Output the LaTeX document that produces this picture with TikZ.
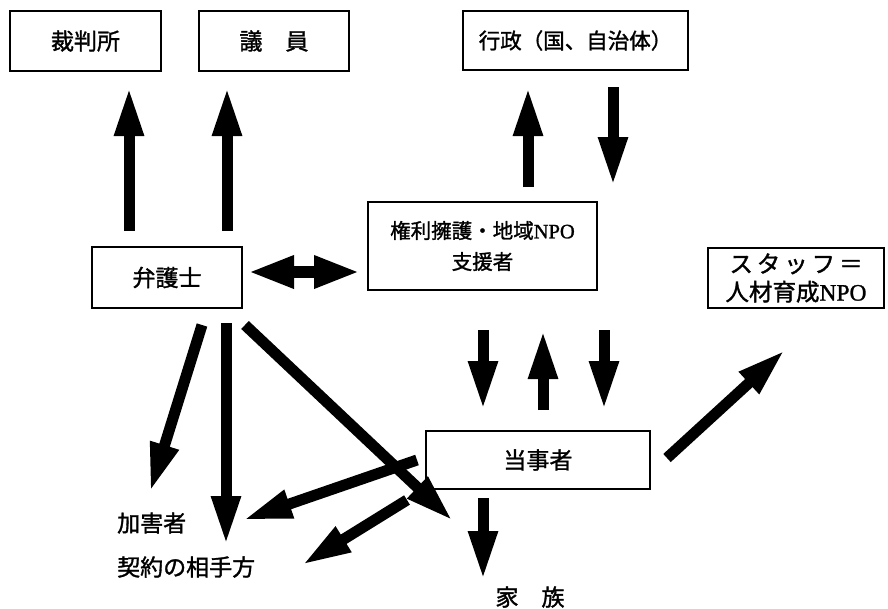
\documentclass[tikz,border=0pt]{standalone}
\usepackage{fontspec}
\setmainfont{Liberation Serif}
\newfontfamily\jp[FakeBold=1.4]{Noto Sans CJK JP}
\newfontfamily\npo[FakeBold=1.2]{Liberation Serif}
\usetikzlibrary{arrows.meta}
\begin{document}
\begin{tikzpicture}[x=1pt,y=-1pt,
  box/.style={draw, line width=2.4pt, inner sep=0pt, align=center,
    font=\jp\fontsize{23}{29}\selectfont},
  lbl/.style={inner sep=0pt, font=\jp\fontsize{23}{29}\selectfont},
  fat/.style={line width=11pt, -{Triangle[length=49pt,width=27pt]}},
  dbl/.style={line width=12pt, {Triangle[length=46pt,width=30pt]}-{Triangle[length=46pt,width=30pt]}}]
\useasboundingbox (0,0) rectangle (888,608);
% boxes
\node[box, minimum width=151pt, minimum height=60pt] (court) at (85.5,41) {裁判所};
\node[box, minimum width=150pt, minimum height=60pt] (giin) at (274,41) {議　員};
\node[box, minimum width=225pt, minimum height=59pt, font=\jp\fontsize{21.5}{29}\selectfont] (gov) at (575.5,40.5) {行政（国、自治体）};
\node[box, minimum width=150pt, minimum height=61pt] (lawyer) at (167,277.5) {弁護士};
\node[box, minimum width=229pt, minimum height=88pt, font=\jp\fontsize{20.5}{31}\selectfont] (npo) at (482.5,246) {権利擁護・地域{\npo NPO}\\支援者};
\node[box, minimum width=176pt, minimum height=60pt, font=\jp\fontsize{23.5}{28}\selectfont] (staff) at (796,278) {ス\,タ\,ッ\,フ\,＝\\人材育成{\npo NPO}};
\node[box, minimum width=224pt, minimum height=58pt] (party) at (538,460) {当事者};
% labels
\node[lbl, anchor=west] (victim) at (117,523) {加害者};
\node[lbl, anchor=west] (partner) at (117,567) {契約の相手方};
\node[lbl] (family) at (530,597) {家　族};
% arrow end points
\coordinate (a1s) at (129,231); \coordinate (a1e) at (129,87);
\coordinate (a2s) at (227,231); \coordinate (a2e) at (227,87);
\coordinate (a3s) at (528,187); \coordinate (a3e) at (528,87);
\coordinate (a4s) at (613,87);  \coordinate (a4e) at (613,186);
\coordinate (d1) at (248,272);  \coordinate (d2) at (360,272);
\coordinate (b1s) at (483,330); \coordinate (b1e) at (483,410);
\coordinate (b2s) at (543,410); \coordinate (b2e) at (543,330);
\coordinate (b3s) at (604,330); \coordinate (b3e) at (604,410);
\coordinate (c1s) at (667,458); \coordinate (c1e) at (785,350);
\coordinate (l1s) at (202,325); \coordinate (l1e) at (150,492);
\coordinate (l2s) at (226,323); \coordinate (l2e) at (226,545);
\coordinate (l3s) at (245,325); \coordinate (l3e) at (453,521);
\coordinate (p1s) at (417,460); \coordinate (p1e) at (243,520);
\coordinate (p2s) at (407,500); \coordinate (p2e) at (302,565);
\coordinate (p3s) at (483,498); \coordinate (p3e) at (483,580);
% arrows
\draw[fat] (a1s) -- (a1e);
\draw[fat] (a2s) -- (a2e);
\draw[fat] (a3s) -- (a3e);
\draw[fat] (a4s) -- (a4e);
\draw[dbl] (d1) -- (d2);
\draw[fat] (b1s) -- (b1e);
\draw[fat] (b2s) -- (b2e);
\draw[fat] (b3s) -- (b3e);
\draw[fat] (c1s) -- (c1e);
\draw[fat] (l1s) -- (l1e);
\draw[fat] (l2s) -- (l2e);
\draw[fat] (l3s) -- (l3e);
\draw[fat] (p1s) -- (p1e);
\draw[fat] (p2s) -- (p2e);
\draw[fat] (p3s) -- (p3e);
\end{tikzpicture}
\end{document}
